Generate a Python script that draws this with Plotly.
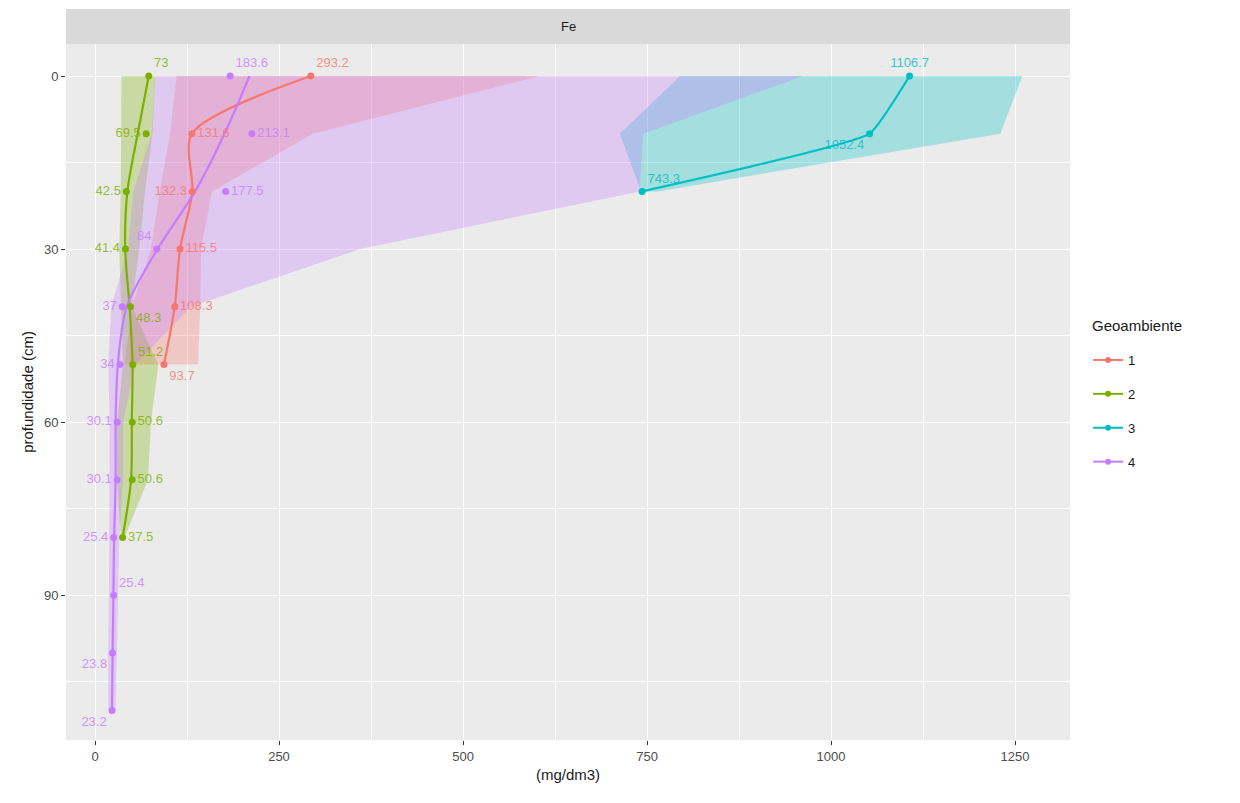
import plotly.graph_objects as go

# ---- data ----
groups = ["1", "2", "3", "4"]
colors = {"1": "#F8766D", "2": "#7CAE00", "3": "#00BFC4", "4": "#C77CFF"}

depth_1 = [0, 10, 20, 30, 40, 50]
fe_1 = [293.2, 131.6, 132.3, 115.5, 108.3, 93.7]
fit_1 = [293.2, 131.6, 132.3, 115.5, 108.3, 93.7]
low_1 = [111, 102, 88, 76, 50, 40]
up_1 = [604, 296, 159, 144, 143, 140]
pos_1 = ["top right", "middle right", "middle left", "middle right", "middle right", "bottom right"]

depth_2 = [0, 10, 20, 30, 40, 50, 60, 70, 80]
fe_2 = [73, 69.5, 42.5, 41.4, 48.3, 51.2, 50.6, 50.6, 37.5]
fit_2 = [73, 58, 44, 41, 47, 51, 50, 49, 37.5]
low_2 = [36, 36, 35, 33, 35, 38, 30, 30, 35]
up_2 = [82, 78, 68, 60, 50, 86, 76, 72, 40]
pos_2 = ["top right", "middle left", "middle left", "middle left", "bottom right", "top right",
         "middle right", "middle right", "middle right"]

depth_3 = [0, 10, 20]
fe_3 = [1106.7, 1052.4, 743.3]
fit_3 = [1106.7, 1052.4, 743.3]
low_3 = [795, 713, 742]
up_3 = [1260, 1230, 765]
pos_3 = ["top center", "bottom left", "top right"]

depth_4 = [0, 10, 20, 30, 40, 50, 60, 70, 80, 90, 100, 110]
fe_4 = [183.6, 213.1, 177.5, 84, 37, 34, 30.1, 30.1, 25.4, 25.4, 23.8, 23.2]
fit_4 = [210, 176, 136, 85, 43, 31, 28, 28, 26, 25, 24, 23]
low_4 = [82, 77, 52, 45, 22, 18, 20, 20, 19, 19, 18, 18]
up_4 = [962, 745, 740, 360, 130, 55, 38, 38, 33, 31, 30, 28]
pos_4 = ["top right", "middle right", "middle right", "top left", "middle left", "middle left",
         "middle left", "middle left", "middle left", "top right", "bottom left", "bottom left"]

smooth = {"1": 0.8, "2": 0.8, "3": 0.35, "4": 0.8}

data = {
    "1": (depth_1, fe_1, fit_1, low_1, up_1, pos_1),
    "2": (depth_2, fe_2, fit_2, low_2, up_2, pos_2),
    "3": (depth_3, fe_3, fit_3, low_3, up_3, pos_3),
    "4": (depth_4, fe_4, fit_4, low_4, up_4, pos_4),
}

x_ticks = [0, 250, 500, 750, 1000, 1250]
y_ticks = [0, 30, 60, 90]


def rgba(hexc, a):
    h = hexc.lstrip("#")
    r, g, b = int(h[0:2], 16), int(h[2:4], 16), int(h[4:6], 16)
    return f"rgba({r},{g},{b},{a})"


fig = go.Figure()

# ribbons
for g in groups:
    d, v, f, lo, up, pos = data[g]
    fig.add_trace(go.Scatter(
        x=list(lo) + list(up)[::-1], y=list(d) + list(d)[::-1],
        fill="toself", fillcolor=rgba(colors[g], 0.3), line=dict(width=0),
        mode="lines", hoverinfo="skip", showlegend=False))

# smooth lines
for g in groups:
    d, v, f, lo, up, pos = data[g]
    fig.add_trace(go.Scatter(
        x=f, y=d, mode="lines",
        line=dict(color=colors[g], width=2.2, shape="spline", smoothing=smooth[g]),
        hoverinfo="skip", showlegend=False))

# points and labels
for g in groups:
    d, v, f, lo, up, pos = data[g]
    fig.add_trace(go.Scatter(
        x=v, y=d, mode="markers+text", marker=dict(color=colors[g], size=7),
        text=[f"{val:g}" for val in v], textposition=pos,
        textfont=dict(color=rgba(colors[g], 0.8), size=13, family="Liberation Sans, Arial, sans-serif"),
        showlegend=False))

# legend entries
for g in groups:
    fig.add_trace(go.Scatter(
        x=[None], y=[None], mode="lines+markers", name=g, legendgroup=g,
        line=dict(color=colors[g], width=2), marker=dict(color=colors[g], size=6)))

grid = dict(showgrid=True, gridcolor="white", gridwidth=1.1, zeroline=False,
            ticks="outside", ticklen=4, tickcolor="#333333", tickwidth=1,
            tickfont=dict(size=13, color="#4D4D4D"), showline=False)

fig.update_layout(
    width=1240, height=803,
    margin=dict(l=66, r=170, t=44, b=63),
    paper_bgcolor="white", plot_bgcolor="#EBEBEB",
    font=dict(family="Liberation Sans, Arial, sans-serif", color="#1A1A1A"),
    xaxis=dict(range=[-39.4, 1324.7], tickvals=x_ticks, ticktext=[str(t) for t in x_ticks],
               title=dict(text="(mg/dm3)", font=dict(size=15), standoff=6),
               minor=dict(dtick=125, tick0=0, showgrid=True, gridcolor="white", gridwidth=0.5, ticks=""),
               **grid),
    yaxis=dict(range=[115.1, -5.55], tickvals=y_ticks, ticktext=[str(t) for t in y_ticks],
               title=dict(text="profundidade (cm)", font=dict(size=15), standoff=6),
               minor=dict(dtick=15, tick0=0, showgrid=True, gridcolor="white", gridwidth=0.5, ticks=""),
               **grid),
    legend=dict(x=1.018, y=(740 - 345) / 696, xanchor="left", yanchor="top",
                font=dict(size=13), tracegroupgap=14, traceorder="grouped",
                bgcolor="rgba(0,0,0,0)"),
    showlegend=True,
)

fig.add_annotation(text="Geoambiente", xref="paper", yref="paper", x=(1090 - 66) / 1004,
                   y=(740 - 325) / 696, xanchor="left", yanchor="middle", showarrow=False,
                   font=dict(size=15, color="#1A1A1A"))

fig.add_shape(type="rect", xref="paper", yref="paper", x0=0, x1=1, y0=1, y1=1 + 35 / 696,
              fillcolor="#D9D9D9", line=dict(width=0), layer="below")
fig.add_annotation(text="Fe", xref="paper", yref="paper", x=0.5, y=1 + 17.5 / 696,
                   showarrow=False, font=dict(size=13, color="#1A1A1A"), yanchor="middle")

fig.write_html("out.html")
